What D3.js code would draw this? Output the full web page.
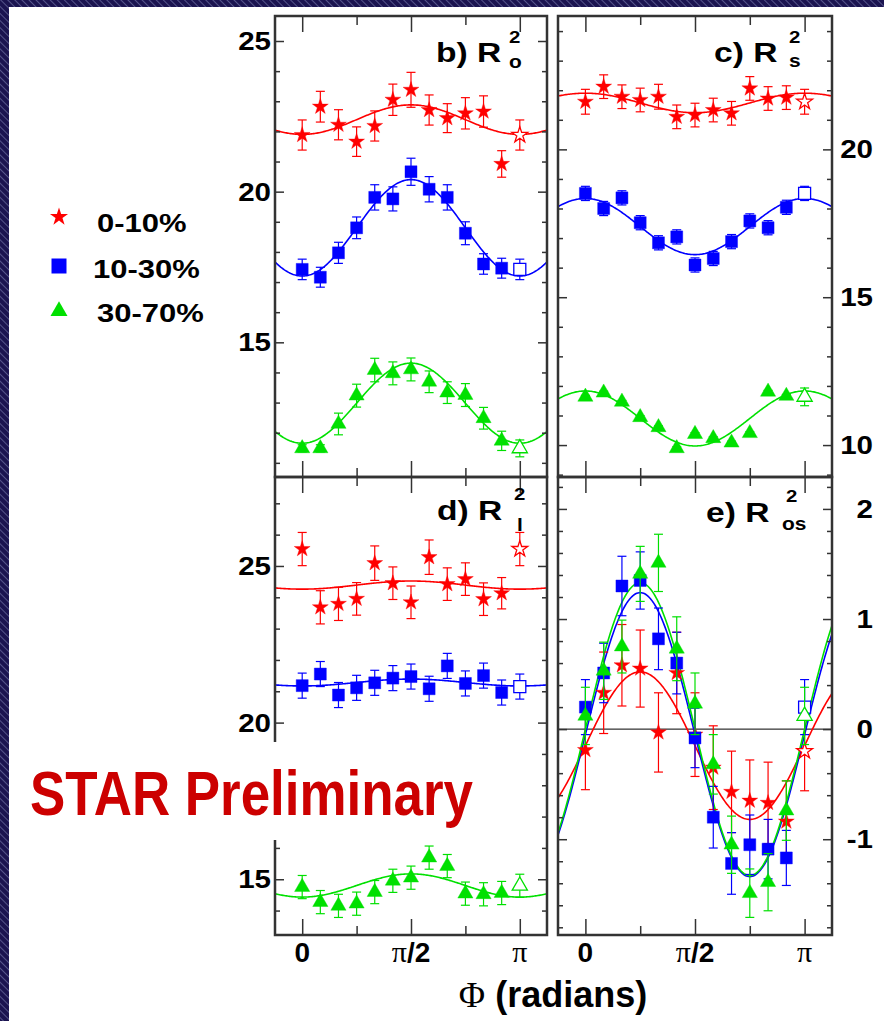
<!DOCTYPE html>
<html>
<head>
<meta charset="utf-8">
<script src="https://cdn.jsdelivr.net/npm/d3@7/dist/d3.min.js"></script>
<style>
  html, body { margin: 0; padding: 0; background: #fff; }
  svg { display: block; }
</style>
</head>
<body>
<svg id="chart" width="884" height="1021"></svg>
<script>
// Azimuthally sensitive HBT radii versus reaction-plane angle, three centrality classes
const centralities = ["0-10%", "10-30%", "30-70%"];
const seriesColors = ["#ff0000", "#0000ff", "#00e000"];

// Φ = step · π/12 ; the step-12 point (Φ = π) is drawn as an open marker
const phiSteps = [0, 1, 2, 3, 4, 5, 6, 7, 8, 9, 10, 11, 12];

// b) R_o^2
const ro2_0_10   = [21.88, 22.82, 22.22, 21.66, 22.18, 23.05, 23.38, 22.71, 22.44, 22.60, 22.66, 20.92, 21.88];
const ro2_0_10e  = [0.50, 0.51, 0.50, 0.49, 0.50, 0.52, 0.58, 0.50, 0.48, 0.52, 0.52, 0.44, 0.50];
const ro2_10_30  = [17.42, 17.16, 17.97, 18.80, 19.81, 19.76, 20.66, 20.08, 19.81, 18.62, 17.60, 17.46, 17.42];
const ro2_10_30e = [0.34, 0.33, 0.35, 0.36, 0.42, 0.40, 0.45, 0.42, 0.42, 0.38, 0.34, 0.33, 0.34];
const ro2_30_70  = [11.48, 11.48, 12.29, 13.23, 14.08, 13.97, 14.10, 13.69, 13.33, 13.25, 12.48, 11.73, 11.48];
const ro2_30_70e = [0.12, 0.12, 0.36, 0.38, 0.39, 0.38, 0.38, 0.36, 0.36, 0.38, 0.36, 0.32, 0.28];

// c) R_s^2
const rs2_0_10   = [21.61, 22.12, 21.78, 21.67, 21.78, 21.10, 21.16, 21.33, 21.22, 22.06, 21.72, 21.75, 21.61];
const rs2_0_10e  = [0.42, 0.40, 0.40, 0.40, 0.42, 0.40, 0.40, 0.40, 0.40, 0.40, 0.40, 0.40, 0.42];
const rs2_10_30  = [18.51, 18.00, 18.36, 17.52, 16.84, 17.04, 16.09, 16.31, 16.88, 17.58, 17.35, 18.04, 18.51];
const rs2_10_30e = [0.24, 0.24, 0.24, 0.24, 0.24, 0.24, 0.24, 0.24, 0.24, 0.24, 0.24, 0.24, 0.24];
const rs2_30_70  = [11.63, 11.77, 11.46, 10.94, 10.60, 9.89, 10.37, 10.23, 10.08, 10.40, 11.80, 11.66, 11.63];
const rs2_30_70e = [0.05, 0.05, 0.05, 0.05, 0.05, 0.05, 0.05, 0.05, 0.05, 0.05, 0.05, 0.05, 0.30];

// d) R_l^2
const rl2_0_10   = [25.54, 23.68, 23.79, 23.95, 25.09, 24.45, 23.84, 25.28, 24.42, 24.58, 23.94, 24.13, 25.54];
const rl2_0_10e  = [0.53, 0.53, 0.53, 0.52, 0.55, 0.52, 0.52, 0.55, 0.52, 0.52, 0.52, 0.50, 0.53];
const rl2_10_30  = [21.18, 21.55, 20.88, 21.11, 21.27, 21.42, 21.47, 21.08, 21.81, 21.25, 21.50, 20.96, 21.15];
const rl2_10_30e = [0.40, 0.40, 0.40, 0.40, 0.40, 0.40, 0.40, 0.40, 0.40, 0.40, 0.40, 0.40, 0.40];
const rl2_30_70  = [14.75, 14.27, 14.15, 14.22, 14.59, 14.95, 15.05, 15.69, 15.42, 14.54, 14.52, 14.56, 14.79];
const rl2_30_70e = [0.37, 0.37, 0.37, 0.37, 0.37, 0.37, 0.37, 0.37, 0.37, 0.37, 0.37, 0.37, 0.37];

// e) R_os^2
const ros2_0_10   = [-0.19, 0.33, 0.58, 0.55, -0.03, 0.51, -0.05, -0.35, -0.57, -0.65, -0.67, -0.84, -0.20];
const ros2_0_10e  = [0.36, 0.37, 0.37, 0.35, 0.36, 0.37, 0.38, 0.38, 0.37, 0.37, 0.37, 0.37, 0.36];
const ros2_10_30  = [0.20, 0.51, 1.30, 1.35, 0.82, 0.60, -0.08, -0.80, -1.22, -1.05, -1.09, -1.17, 0.20];
const ros2_10_30e = [0.25, 0.27, 0.27, 0.26, 0.28, 0.28, 0.27, 0.28, 0.28, 0.27, 0.27, 0.25, 0.25];
const ros2_30_70  = [0.12, 0.53, 0.75, 1.41, 1.51, 0.73, 0.23, -0.32, -1.05, -1.49, -1.39, -0.74, 0.12];
const ros2_30_70e = [0.26, 0.26, 0.24, 0.25, 0.26, 0.29, 0.28, 0.27, 0.26, 0.22, 0.26, 0.27, 0.26];

// Fit parameters: value = offset + amp·cos(2Φ)   (offset + amp·sin(2Φ) for R_os^2)
const ro2FitOffset  = [22.39, 18.80, 12.98];
const ro2FitAmp     = [-0.49, -1.60, -1.33];
const rs2FitOffset  = [21.57, 17.39, 10.90];
const rs2FitAmp     = [0.33, 0.95, 0.93];
const rl2FitOffset  = [24.39, 21.28, 14.80];
const rl2FitAmp     = [-0.13, -0.11, -0.37];
const ros2FitOffset = [-0.15, -0.05, 0.00];
const ros2FitAmp    = [0.67, 1.29, 1.33];

// Axis ticks
const phiTicksMajor = [0, Math.PI / 2, Math.PI];
const phiTicksMinor = [Math.PI / 4, 3 * Math.PI / 4];
const phiTickLabels = ["0", "π/2", "π"];

// ---------------------------------------------------------------------------
const svg = d3.select("#chart");
const W = 884, H = 1021;
const SANS = "'Liberation Sans', Arial, Helvetica, sans-serif";
const SERIF = "'Liberation Serif', 'Times New Roman', serif";

// slide background with diagonal hatching, white plotting sheet on top
const defs = svg.append("defs");
const hatch = defs.append("pattern")
  .attr("id", "hatch").attr("patternUnits", "userSpaceOnUse")
  .attr("width", 5).attr("height", 5).attr("patternTransform", "rotate(-45)");
hatch.append("rect").attr("width", 5).attr("height", 5).attr("fill", "#1b1450");
hatch.append("line").attr("x1", 0.5).attr("y1", 0).attr("x2", 0.5).attr("y2", 5)
  .attr("stroke", "#55548a").attr("stroke-width", 1);
svg.append("rect").attr("width", W).attr("height", H).attr("fill", "url(#hatch)");
svg.append("rect").attr("x", 9).attr("y", 7).attr("width", W - 9).attr("height", H - 7).attr("fill", "#fff");

function boldText(parent, str, x, y, size, sx, anchor, fill) {
  return parent.append("text")
    .attr("transform", `translate(${x},${y}) scale(${sx},1)`)
    .attr("text-anchor", anchor || "start")
    .attr("font-family", SANS).attr("font-weight", "bold")
    .attr("font-size", size).attr("fill", fill || "#000")
    .text(str);
}

const symbolTypes = [d3.symbolStar, d3.symbolSquare, d3.symbolTriangle];
const symbolSizes = [78, 144, 100];

const panels = [
  { key: "b", sub: "o", left: 275, right: 547, top: 16, bottom: 477,
    yDomain: [10.53, 25.83], majorY: [15, 20, 25], minorY: d3.range(11, 26),
    labelSide: "left", harmonic: "cos",
    values: [ro2_0_10, ro2_10_30, ro2_30_70], errors: [ro2_0_10e, ro2_10_30e, ro2_30_70e],
    offsets: ro2FitOffset, amps: ro2FitAmp,
    title: { x: 436, y: 62, supX: 509, supY: 42.5, subX: 509, subY: 67.5 }, xLabels: false },
  { key: "c", sub: "s", left: 558, right: 832, top: 16, bottom: 477,
    yDomain: [8.92, 24.51], majorY: [10, 15, 20], minorY: d3.range(9, 25),
    labelSide: "right", harmonic: "cos",
    values: [rs2_0_10, rs2_10_30, rs2_30_70], errors: [rs2_0_10e, rs2_10_30e, rs2_30_70e],
    offsets: rs2FitOffset, amps: rs2FitAmp,
    title: { x: 714, y: 61.7, supX: 789, supY: 42.5, subX: 789, subY: 67 }, xLabels: false },
  { key: "d", sub: "l", left: 275, right: 547, top: 477, bottom: 935,
    yDomain: [13.22, 27.84], majorY: [15, 20, 25], minorY: d3.range(14, 28),
    labelSide: "left", harmonic: "cos",
    values: [rl2_0_10, rl2_10_30, rl2_30_70], errors: [rl2_0_10e, rl2_10_30e, rl2_30_70e],
    offsets: rl2FitOffset, amps: rl2FitAmp,
    title: { x: 437, y: 520, supX: 514, supY: 499.5, subX: 517, subY: 531 }, xLabels: true },
  { key: "e", sub: "os", left: 558, right: 832, top: 477, bottom: 935,
    yDomain: [-1.87, 2.29], majorY: [-1, 0, 1, 2], minorY: d3.range(-9, 12).map(i => i / 5),
    labelSide: "right", harmonic: "sin", zeroLine: true,
    values: [ros2_0_10, ros2_10_30, ros2_30_70], errors: [ros2_0_10e, ros2_10_30e, ros2_30_70e],
    offsets: ros2FitOffset, amps: ros2FitAmp,
    title: { x: 706, y: 521.7, supX: 786, supY: 502, subX: 782, subY: 530 }, xLabels: true }
];

panels.forEach(p => {
  const x = d3.scaleLinear().domain([-Math.PI / 8, 9 * Math.PI / 8]).range([p.left, p.right]);
  const y = d3.scaleLinear().domain(p.yDomain).range([p.bottom, p.top]);
  const g = svg.append("g").attr("class", "panel-" + p.key);

  defs.append("clipPath").attr("id", "clip-" + p.key)
    .append("rect").attr("x", p.left).attr("y", p.top)
    .attr("width", p.right - p.left).attr("height", p.bottom - p.top);
  const plot = g.append("g").attr("clip-path", `url(#clip-${p.key})`);

  if (p.zeroLine) {
    plot.append("line").attr("x1", p.left).attr("x2", p.right)
      .attr("y1", y(0)).attr("y2", y(0)).attr("stroke", "#000").attr("stroke-width", 1);
  }

  // fitted curves
  const harm = p.harmonic === "sin" ? Math.sin : Math.cos;
  const phiSamples = d3.range(0, 241).map(i => x.domain()[0] + i * (x.domain()[1] - x.domain()[0]) / 240);
  const line = d3.line().x(d => x(d[0])).y(d => y(d[1]));
  p.offsets.forEach((off, s) => {
    const amp = p.amps[s];
    plot.append("path")
      .datum(phiSamples.map(f => [f, off + amp * harm(2 * f)]))
      .attr("d", line).attr("fill", "none")
      .attr("stroke", seriesColors[s]).attr("stroke-width", 1.6);
  });

  // data points with error bars
  p.values.forEach((vals, s) => {
    const col = seriesColors[s];
    const pts = phiSteps.map((k, i) => ({ phi: k * Math.PI / 12, v: vals[i], e: p.errors[s][i], open: k === 12 }));
    const eg = plot.append("g").attr("stroke", col).attr("stroke-width", 1.2).attr("fill", "none");
    pts.forEach(d => {
      const cx = x(d.phi), yt = y(d.v + d.e), yb = y(d.v - d.e);
      eg.append("line").attr("x1", cx).attr("x2", cx).attr("y1", yt).attr("y2", yb);
      eg.append("line").attr("x1", cx - 4.5).attr("x2", cx + 4.5).attr("y1", yt).attr("y2", yt);
      eg.append("line").attr("x1", cx - 4.5).attr("x2", cx + 4.5).attr("y1", yb).attr("y2", yb);
    });
    const sym = d3.symbol().type(symbolTypes[s]).size(symbolSizes[s]);
    plot.append("g").selectAll("path").data(pts).join("path")
      .attr("transform", d => `translate(${x(d.phi)},${y(d.v)})`)
      .attr("d", sym)
      .attr("fill", d => d.open ? "#fff" : col)
      .attr("stroke", col).attr("stroke-width", d => d.open ? 1.3 : 0.4);
  });

  // ticks (inward on all four sides)
  const tickStyle = sel => {
    sel.select(".domain").remove();
    sel.selectAll("line").attr("stroke", "#333").attr("stroke-width", 1.5);
  };
  const minorY = p.minorY.filter(v => !p.majorY.some(m => Math.abs(m - v) < 1e-6));
  [[d3.axisLeft, p.left], [d3.axisRight, p.right]].forEach(([ax, pos]) => {
    g.append("g").attr("transform", `translate(${pos},0)`)
      .call(ax(y).tickValues(minorY).tickSize(-5).tickFormat("")).call(tickStyle);
    g.append("g").attr("transform", `translate(${pos},0)`)
      .call(ax(y).tickValues(p.majorY).tickSize(-9).tickFormat("")).call(tickStyle);
  });
  [[d3.axisTop, p.top], [d3.axisBottom, p.bottom]].forEach(([ax, pos]) => {
    g.append("g").attr("transform", `translate(0,${pos})`)
      .call(ax(x).tickValues(phiTicksMinor).tickSize(-9).tickFormat("")).call(tickStyle);
    g.append("g").attr("transform", `translate(0,${pos})`)
      .call(ax(x).tickValues(phiTicksMajor).tickSize(-16).tickFormat("")).call(tickStyle);
  });

  // frame
  g.append("rect").attr("x", p.left).attr("y", p.top)
    .attr("width", p.right - p.left).attr("height", p.bottom - p.top)
    .attr("fill", "none").attr("stroke", "#333").attr("stroke-width", 2.5);

  // y tick labels
  p.majorY.forEach(v => {
    if (p.labelSide === "left") boldText(svg, String(v), 271, y(v) + 9, 25, 1.18, "end");
    else boldText(svg, String(v), 873, y(v) + 9, 25, 1.18, "end");
  });

  // x tick labels
  if (p.xLabels) {
    phiTicksMajor.forEach((f, i) => {
      const t = svg.append("text").attr("x", x(f)).attr("y", 962)
        .attr("text-anchor", "middle").attr("font-family", SANS)
        .attr("font-weight", "bold").attr("font-size", 28).attr("fill", "#000");
      const lab = phiTickLabels[i];
      if (lab.startsWith("π")) {
        t.append("tspan").attr("font-family", SERIF).attr("font-weight", "normal").attr("font-size", 30).text("π");
        if (lab.length > 1) t.append("tspan").text(lab.slice(1));
      } else t.text(lab);
    });
  }

  // panel title, e.g. "b) R" with superscript 2 and subscript o
  boldText(svg, p.key + ") R", p.title.x, p.title.y, 28, 1.2, "start");
  boldText(svg, "2", p.title.supX, p.title.supY, 17, 1.2, "start");
  boldText(svg, p.sub, p.title.subX, p.title.subY, 19, 1.1, "start");
});

// axis title
const xt = svg.append("text").attr("x", 553).attr("y", 1007).attr("text-anchor", "middle")
  .attr("font-family", SANS).attr("font-weight", "bold").attr("font-size", 36).attr("fill", "#000");
xt.append("tspan").attr("font-family", SERIF).attr("font-weight", "normal").text("Φ");
xt.append("tspan").text(" (radians)");

// legend
const legendRows = [
  { x: 59, y: 217, tx: 97, ty: 231.7, size: 101 },
  { x: 59, y: 266, tx: 93, ty: 278, size: 225 },
  { x: 59, y: 311, tx: 97, ty: 321.7, size: 125 }
];
centralities.forEach((c, i) => {
  const r = legendRows[i];
  svg.append("path")
    .attr("transform", `translate(${r.x},${r.y})`)
    .attr("d", d3.symbol().type(symbolTypes[i]).size(r.size))
    .attr("fill", seriesColors[i]);
  boldText(svg, c, r.tx, r.ty, 25, 1.24, "start");
});

// preliminary stamp on a white patch over panel d's left edge
svg.append("rect").attr("x", 12).attr("y", 742).attr("width", 466).attr("height", 98).attr("fill", "#fff");
svg.append("text").attr("x", 30).attr("y", 815)
  .attr("font-family", "'Liberation Sans Narrow', 'Liberation Sans', Arial, sans-serif")
  .attr("font-weight", "bold").attr("font-size", 63).attr("fill", "#cc0000")
  .attr("textLength", 443).attr("lengthAdjust", "spacingAndGlyphs")
  .text("STAR Preliminary");
</script>
</body>
</html>
